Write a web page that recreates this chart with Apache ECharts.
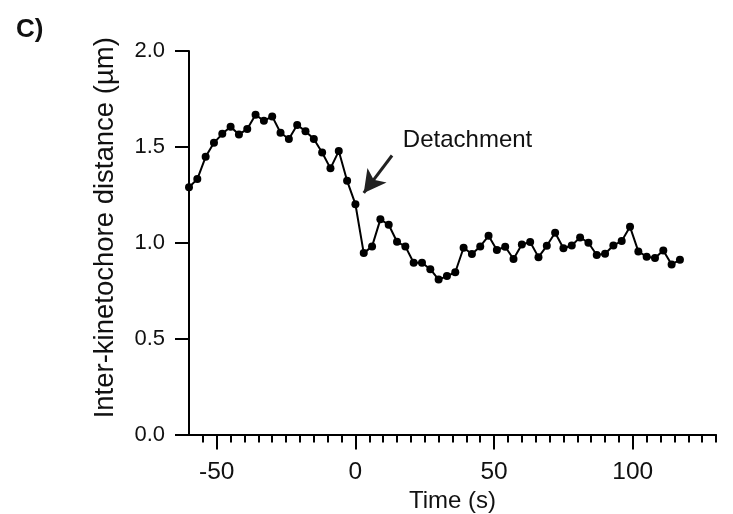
<!DOCTYPE html>
<html>
<head>
<meta charset="utf-8">
<script src="https://cdn.jsdelivr.net/npm/echarts@6/dist/echarts.min.js"></script>
<style>
html,body{margin:0;padding:0;background:#fff;}
#chart{width:733px;height:514px;}
</style>
</head>
<body>
<div id="chart"></div>
<script>
// Time (s)
const times = [-60,-57,-54,-51,-48,-45,-42,-39,-36,-33,-30,-27,-24,-21,-18,-15,-12,-9,-6,-3,
  0,3,6,9,12,15,18,21,24,27,30,33,36,39,42,45,48,51,54,57,
  60,63,66,69,72,75,78,81,84,87,90,93,96,99,102,105,108,111,114,117];
// Inter-kinetochore distance (µm)
const distances = [1.289,1.332,1.448,1.521,1.568,1.605,1.565,1.593,1.667,1.636,
  1.659,1.574,1.541,1.614,1.582,1.541,1.471,1.388,1.478,1.323,
  1.201,0.946,0.981,1.122,1.094,1.005,0.981,0.896,0.896,0.862,
  0.808,0.826,0.846,0.974,0.941,0.981,1.036,0.962,0.979,0.915,
  0.991,1.004,0.925,0.984,1.052,0.971,0.986,1.028,1.000,0.936,
  0.943,0.986,1.009,1.083,0.955,0.927,0.920,0.960,0.887,0.911];
const xMajorTicks = [-50,0,50,100];
const xMinorTicks = [-55,-50,-45,-40,-35,-30,-25,-20,-15,-10,-5,0,5,10,15,20,25,30,35,40,45,50,55,60,65,70,75,80,85,90,95,100,105,110,115,120,125,130];
const annotationText = 'Detachment';
const arrowFrom = [13.2, 1.455];
const arrowTo = [3.0, 1.26];
const textAnchor = [17.1, 1.535];

const FONT = 'Liberation Sans, Arial, Helvetica, sans-serif';
const chart = echarts.init(document.getElementById('chart'), null, {renderer:'canvas'});
const data = times.map((t,i)=>[t, distances[i]]);
chart.setOption({
  animation:false,
  backgroundColor:'#fff',
  title:{text:'C)', left:11, top:12, textStyle:{fontFamily:FONT, fontSize:26, fontWeight:'bold', color:'#111'}},
  grid:{left:189, right:17, top:51, bottom:79.5, containLabel:false, outerBoundsMode:'none'},
  xAxis:[{
    type:'value', min:-60, max:130,
    name:'Time (s)', nameLocation:'middle', nameGap:50,
    nameTextStyle:{fontFamily:FONT, fontSize:24, color:'#111'},
    axisLine:{show:true, onZero:false, lineStyle:{color:'#000', width:2}},
    axisTick:{show:true, length:15, lineStyle:{color:'#000', width:2}, customValues:xMajorTicks},
    axisLabel:{show:true, margin:25, fontFamily:FONT, fontSize:24.5, color:'#111', customValues:xMajorTicks},
    splitLine:{show:false}
  },{
    type:'value', min:-60, max:130, position:'bottom',
    axisLine:{show:false, onZero:false},
    axisTick:{show:true, length:8, lineStyle:{color:'#000', width:2}, customValues:xMinorTicks},
    axisLabel:{show:false},
    splitLine:{show:false}
  }],
  yAxis:{
    type:'value', min:0, max:2, interval:0.5,
    name:'Inter-kinetochore distance (µm)', nameLocation:'middle', nameGap:70,
    nameTextStyle:{fontFamily:FONT, fontSize:27.5, color:'#111', padding:[0,0,0,30]},
    axisLine:{show:true, onZero:false, lineStyle:{color:'#000', width:2}},
    axisTick:{show:true, length:14, lineStyle:{color:'#000', width:2}},
    axisLabel:{margin:24, fontFamily:FONT, fontSize:22, color:'#111', formatter:v=>v.toFixed(1)},
    splitLine:{show:false}
  },
  series:[{
    type:'line', xAxisIndex:0, data:data,
    symbol:'circle', symbolSize:8, showSymbol:true,
    lineStyle:{color:'#000', width:2},
    itemStyle:{color:'#000'},
    markLine:{
      silent:true, symbol:['none','arrow'], symbolSize:[18,22],
      lineStyle:{color:'#222', width:3, type:'solid'},
      label:{show:false},
      data:[[{coord:arrowFrom},{coord:arrowTo}]]
    },
    markPoint:{
      silent:true, symbol:'circle', symbolSize:0,
      data:[{coord:textAnchor, value:annotationText}],
      label:{show:true, position:'right', distance:0, formatter:annotationText, fontFamily:FONT, fontSize:24, color:'#111'}
    }
  }]
});
</script>
</body>
</html>
